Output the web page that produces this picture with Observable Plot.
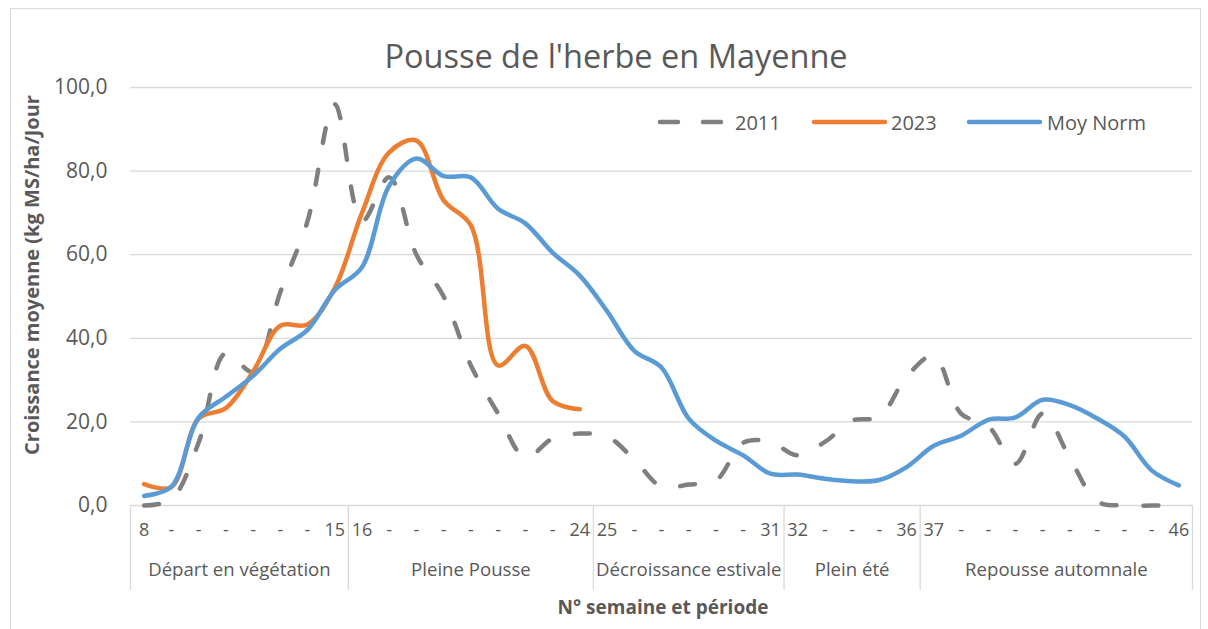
<!DOCTYPE html>
<html>
<head>
<meta charset="utf-8">
<script src="https://cdn.jsdelivr.net/npm/d3@7"></script>
<script src="https://cdn.jsdelivr.net/npm/@observablehq/plot@0.6"></script>
<style>
  html, body { margin: 0; padding: 0; background: #fff; }
  #wrap { position: relative; width: 1208px; height: 629px; overflow: hidden; font-family: "Open Sans", sans-serif; color: #595959; }
  #border { position: absolute; left: 10px; top: 8px; width: 1191px; height: 640px; border: 1px solid #d9d9d9; box-sizing: border-box; }
  #chart { position: absolute; left: 0; top: 0; }
  .abs { position: absolute; white-space: nowrap; }
  #title { left: 616px; top: 55px; transform: translate(-50%, -50%); font-size: 32.5px; }
  #ytitle { left: 31px; top: 275px; transform: translate(-50%, -50%) rotate(-90deg); font-size: 20px; font-weight: 700; }
  #xtitle { left: 663px; top: 607px; transform: translate(-50%, -50%); font-size: 19px; font-weight: 700; }
  .leg { font-size: 20px; top: 122px; transform: translateY(-50%); }
</style>
</head>
<body>
<div id="wrap">
  <div id="border"></div>
  <div id="chart"></div>
  <div id="title" class="abs">Pousse de l'herbe en Mayenne</div>
  <div id="ytitle" class="abs">Croissance moyenne (kg MS/ha/Jour</div>
  <div id="xtitle" class="abs">N° semaine et période</div>
  <div id="legend"></div>
</div>
<script>
// ---- Data ----
const weeks = [8,9,10,11,12,13,14,15,16,17,18,19,20,21,22,23,24,25,26,27,28,29,30,31,32,33,34,35,36,37,38,39,40,41,42,43,44,45,46];
const tickLabels = ["8","-","-","-","-","-","-","15","16","-","-","-","-","-","-","-","24","25","-","-","-","-","-","31","32","-","-","-","36","37","-","-","-","-","-","-","-","-","46"];
const values2011 = [0,1.5,15,36.5,32,51,68,96,68,78.5,60,50,33.5,22,11.5,16,17.2,16.5,11,4.5,5,6,15,15.2,12,15.2,20.3,21.2,30.8,35.8,22,19,10,22,11.3,1,0,0,0];
const weeks2023 = [8,9,10,11,12,13,14,15,16,17,18,19,20,21,22,23,24];
const values2023 = [5.1,4.4,20.8,23.3,32,43,43.3,52,70,84.5,87.3,73,67,33.5,38.2,25,23];
const valuesMoy = [2.3,4.5,21,26,31,37.5,42,51.5,57,76.5,83,78.8,78.5,71,67.5,60.5,55,46.5,37,33,20.8,15.5,12,7.6,7.4,6.4,5.8,6.1,9.2,14.3,16.7,20.5,21.1,25.3,24,20.8,16.5,8.4,4.8];
const periodNames = ["Départ en végétation","Pleine Pousse","Décroissance estivale","Plein été","Repousse automnale"];
const periodStart = [8,16,25,32,37];
const periodEnd = [15,24,31,36,46];
const yTicks = [0,20,40,60,80,100];
const seriesNames = ["2011","2023","Moy Norm"];
const seriesColors = ["#7f7f7f","#ed7d31","#5b9bd5"];

// ---- Tables ----
const t2011 = weeks.map((w,i)=>({week:w, value:values2011[i]}));
const t2023 = weeks2023.map((w,i)=>({week:w, value:values2023[i]}));
const tMoy = weeks.map((w,i)=>({week:w, value:valuesMoy[i]}));
const periods = periodNames.map((n,i)=>({name:n, mid:(periodStart[i]+periodEnd[i])/2}));
const boundaries = [periodStart[0]-0.5, ...periodEnd.map(e=>e+0.5)];
const labelOf = new Map(weeks.map((w,i)=>[w, tickLabels[i]]));

const frameH = 629 - 87 - 124;
const chart = Plot.plot({
  width: 1208,
  height: 629,
  marginLeft: 130,
  marginRight: 16,
  marginTop: 87,
  marginBottom: 124,
  style: { fontFamily: "Open Sans, sans-serif", color: "#595959", background: "transparent" },
  x: { type: "linear", domain: [7.5, 46.5] },
  y: { domain: [0, 100] },
  marks: [
    Plot.gridY(yTicks.filter(d=>d>0), { stroke: "#d9d9d9", strokeOpacity: 1, strokeWidth: 1.3 }),
    Plot.ruleY([0], { stroke: "#d9d9d9", strokeWidth: 1.3 }),
    Plot.ruleX(boundaries, { stroke: "#d9d9d9", strokeWidth: 1.3, insetTop: frameH, insetBottom: -85 }),
    Plot.axisY({ ticks: yTicks, tickFormat: d => d.toFixed(1).replace(".", ","), tickSize: 0, tickPadding: 23, fontSize: 21, fill: "#595959", label: null }),
    Plot.axisX({ ticks: weeks, tickFormat: d => labelOf.get(d), tickSize: 0, tickPadding: 18, fontSize: 18, fill: "#595959", label: null }),
    Plot.text(periods, { x: "mid", text: "name", frameAnchor: "bottom", dy: 70, fontSize: 18.6, fill: "#595959" }),
    Plot.line(t2011, { x: "week", y: "value", curve: "catmull-rom", stroke: seriesColors[0], strokeWidth: 4.5, strokeDasharray: "15,27", strokeLinecap: "round", strokeLinejoin: "round" }),
    Plot.line(t2023, { x: "week", y: "value", curve: "catmull-rom", stroke: seriesColors[1], strokeWidth: 4.5, strokeLinecap: "round", strokeLinejoin: "round" }),
    Plot.line(tMoy, { x: "week", y: "value", curve: "catmull-rom", stroke: seriesColors[2], strokeWidth: 4.5, strokeLinecap: "round", strokeLinejoin: "round" })
  ]
});
document.getElementById("chart").appendChild(chart);

// ---- Legend ----
const legend = document.getElementById("legend");
const legItems = [
  { x1: 660, x2: 722, tx: 735 },
  { x1: 814, x2: 885, tx: 891 },
  { x1: 969, x2: 1040, tx: 1047 }
];
seriesNames.forEach((name, i) => {
  const it = legItems[i];
  const svg = d3.create("svg").attr("width", it.x2 - it.x1 + 10).attr("height", 12)
    .style("position", "absolute").style("left", (it.x1 - 5) + "px").style("top", "116px");
  svg.append("line").attr("x1", 5).attr("x2", it.x2 - it.x1 + 5).attr("y1", 6).attr("y2", 6)
    .attr("stroke", seriesColors[i]).attr("stroke-width", 4.5).attr("stroke-linecap", "round")
    .attr("stroke-dasharray", i === 0 ? "18,25" : null);
  legend.appendChild(svg.node());
  const t = document.createElement("div");
  t.className = "abs leg";
  t.style.left = it.tx + "px";
  t.textContent = name;
  legend.appendChild(t);
});
</script>
</body>
</html>
